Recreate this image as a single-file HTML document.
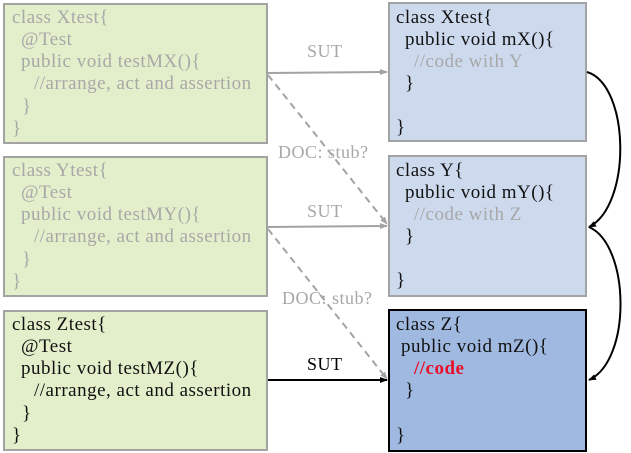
<!DOCTYPE html>
<html><head><meta charset="utf-8"><style>
html,body{margin:0;padding:0;background:#fff;width:631px;height:453px;overflow:hidden;position:relative;font-family:"Liberation Serif",serif;}
.b{position:absolute;box-sizing:border-box;}
.g{background:#e3eecb;border:2px solid #a3a3a3;}
.lb{background:#cddaee;border:2px solid #a3a3a3;}
.db{background:#a0b9e0;border:2px solid #000;}
.t{position:absolute;font-size:19px;letter-spacing:0.5px;white-space:pre;line-height:22px;color:#111;}
.gt{color:#a8a8a8}
.lbl{position:absolute;font-size:18px;letter-spacing:0.5px;white-space:pre;line-height:22px;}
</style></head><body>
<div class="b g" style="left:3px;top:3px;width:265px;height:141px"></div>
<div class="b g" style="left:3px;top:156px;width:265px;height:141px"></div>
<div class="b g" style="left:3px;top:310px;width:265px;height:141px"></div>
<div class="b lb" style="left:388px;top:2px;width:199px;height:140px"></div>
<div class="b lb" style="left:388px;top:155px;width:199px;height:142px"></div>
<div class="b db" style="left:388px;top:309px;width:199px;height:143px"></div>

<div class="t gt" style="left:12px;top:7px">class Xtest{</div>
<div class="t gt" style="left:21px;top:29px">@Test</div>
<div class="t gt" style="left:21px;top:51px">public void testMX(){</div>
<div class="t gt" style="left:34px;top:73px">//arrange, act and assertion</div>
<div class="t gt" style="left:22px;top:96px">}</div>
<div class="t gt" style="left:12px;top:118px">}</div>

<div class="t gt" style="left:12px;top:160px">class Ytest{</div>
<div class="t gt" style="left:21px;top:182px">@Test</div>
<div class="t gt" style="left:21px;top:204px">public void testMY(){</div>
<div class="t gt" style="left:34px;top:226px">//arrange, act and assertion</div>
<div class="t gt" style="left:22px;top:249px">}</div>
<div class="t gt" style="left:12px;top:271px">}</div>

<div class="t" style="left:12px;top:314px">class Ztest{</div>
<div class="t" style="left:21px;top:336px">@Test</div>
<div class="t" style="left:21px;top:358px">public void testMZ(){</div>
<div class="t" style="left:34px;top:380px">//arrange, act and assertion</div>
<div class="t" style="left:22px;top:403px">}</div>
<div class="t" style="left:12px;top:425px">}</div>

<div class="t" style="left:396px;top:7px">class Xtest{</div>
<div class="t" style="left:405px;top:29px">public void mX(){</div>
<div class="t gt" style="left:414px;top:51px">//code with Y</div>
<div class="t" style="left:405px;top:73px">}</div>
<div class="t" style="left:396px;top:117px">}</div>

<div class="t" style="left:396px;top:160px">class Y{</div>
<div class="t" style="left:405px;top:182px">public void mY(){</div>
<div class="t gt" style="left:414px;top:204px">//code with Z</div>
<div class="t" style="left:405px;top:226px">}</div>
<div class="t" style="left:396px;top:270px">}</div>

<div class="t" style="left:396px;top:314px">class Z{</div>
<div class="t" style="left:401px;top:336px">public void mZ(){</div>
<div class="t" style="left:414px;top:358px;color:#e8102a;font-weight:bold">//code</div>
<div class="t" style="left:405px;top:380px">}</div>
<div class="t" style="left:396px;top:425px">}</div>

<svg style="position:absolute;left:0;top:0" width="631" height="453">
<defs>
<marker id="ag" markerWidth="8" markerHeight="8" refX="7" refY="4" orient="auto" markerUnits="userSpaceOnUse"><path d="M0,1 L8,4 L0,7z" fill="#a3a3a3"/></marker>
<marker id="ak" markerWidth="8" markerHeight="8" refX="7" refY="4" orient="auto" markerUnits="userSpaceOnUse"><path d="M0,1 L8,4 L0,7z" fill="#000"/></marker>
</defs>
<line x1="268" y1="73" x2="387" y2="72" stroke="#a3a3a3" stroke-width="2" marker-end="url(#ag)"/>
<line x1="268" y1="75" x2="387" y2="224" stroke="#a3a3a3" stroke-width="2" stroke-dasharray="7,5" marker-end="url(#ag)"/>
<line x1="268" y1="227" x2="387" y2="226" stroke="#a3a3a3" stroke-width="2" marker-end="url(#ag)"/>
<line x1="268" y1="229" x2="387" y2="379" stroke="#a3a3a3" stroke-width="2" stroke-dasharray="7,5" marker-end="url(#ag)"/>
<line x1="268" y1="380" x2="387" y2="380" stroke="#000" stroke-width="2" marker-end="url(#ak)"/>
<path d="M587,72 C630,85 632,205 589,227" fill="none" stroke="#000" stroke-width="2" marker-end="url(#ak)"/>
<path d="M589,227 C630,245 632,360 589,380" fill="none" stroke="#000" stroke-width="2" marker-end="url(#ak)"/>
</svg>
<div class="lbl" style="left:307px;top:40px;color:#a8a8a8">SUT</div>
<div class="lbl" style="left:307px;top:200px;color:#a8a8a8">SUT</div>
<div class="lbl" style="left:307px;top:353px;color:#000">SUT</div>
<div class="lbl" style="left:278px;top:141px;color:#a8a8a8">DOC: stub?</div>
<div class="lbl" style="left:282px;top:287px;color:#a8a8a8">DOC: stub?</div>
</body></html>
